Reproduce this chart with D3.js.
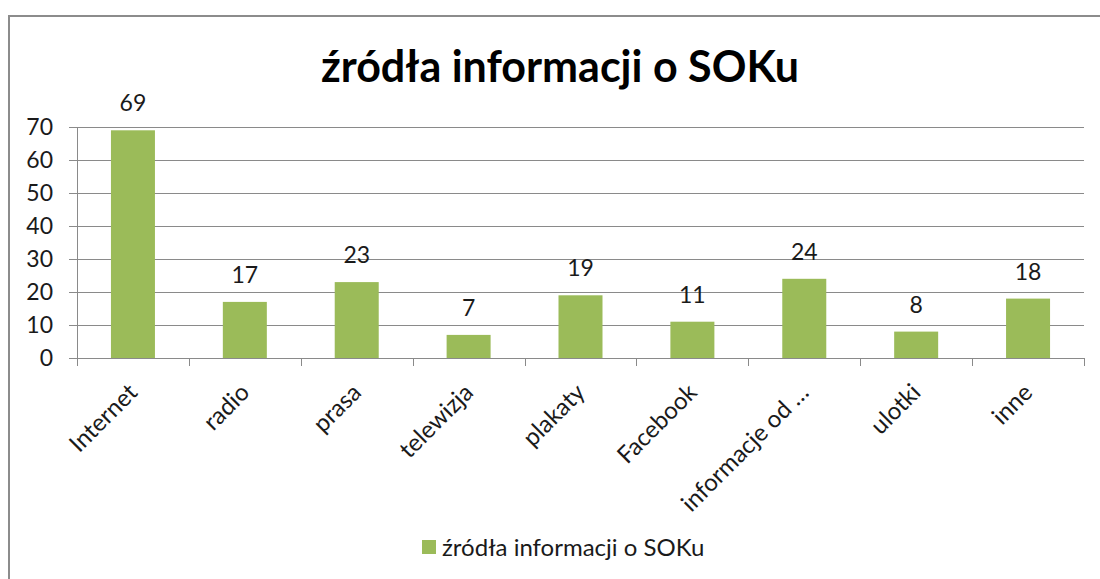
<!DOCTYPE html>
<html>
<head>
<meta charset="utf-8">
<script src="https://cdn.jsdelivr.net/npm/d3@7"></script>
<style>
  body { margin: 0; background: #fff; }
  svg { display: block; font-family: Lato, Calibri, "DejaVu Sans", sans-serif; }
</style>
</head>
<body>
<div id="chart"></div>
<script>
// zrodla informacji o SOKu
var categories = ["Internet", "radio", "prasa", "telewizja", "plakaty", "Facebook", "informacje od …", "ulotki", "inne"];
var values = [69, 17, 23, 7, 19, 11, 24, 8, 18];
var yTicks = [0, 10, 20, 30, 40, 50, 60, 70];
var title = "źródła informacji o SOKu";
var seriesName = "źródła informacji o SOKu";

var width = 1100, height = 579;
var margin = { top: 127, right: 16, bottom: 221, left: 77 };

var svg = d3.select("#chart").append("svg")
    .attr("width", width)
    .attr("height", height);

// frame of the chart area
svg.append("rect")
    .attr("x", 9).attr("y", 16)
    .attr("width", 1200).attr("height", 700)
    .attr("fill", "none")
    .attr("stroke", "#8c8c8c")
    .attr("stroke-width", 2);

var g = svg.append("g")
    .attr("transform", "translate(" + margin.left + "," + margin.top + ")");

var w = width - margin.left - margin.right,
    h = height - margin.top - margin.bottom;

var x = d3.scaleBand().domain(categories).range([0, w]).paddingInner(0).paddingOuter(0);
var y = d3.scaleLinear().domain([0, 70]).range([h, 0]);

// gridlines
g.selectAll(".grid")
    .data(yTicks)
    .enter().append("line")
    .attr("x1", -8).attr("x2", w)
    .attr("y1", d => y(d) + 0.5).attr("y2", d => y(d) + 0.5)
    .attr("stroke", "#8a8a8a")
    .attr("stroke-width", 1);

// y axis
var yAxis = d3.axisLeft(y).tickValues(yTicks).tickSize(0).tickPadding(24);
g.append("g")
    .attr("class", "y axis")
    .call(yAxis)
    .call(s => s.select(".domain").remove())
    .selectAll("text")
    .style("font-family", "Lato, sans-serif")
    .style("font-size", "23px")
    .style("fill", "#1a1a1a");

g.append("line")
    .attr("x1", 0.5).attr("x2", 0.5)
    .attr("y1", 0).attr("y2", h)
    .attr("stroke", "#8a8a8a");

// x tick marks at band boundaries
var bounds = categories.map(c => x(c)).concat([w]);
g.selectAll(".xtick")
    .data(bounds)
    .enter().append("line")
    .attr("x1", d => Math.round(d) + 0.5).attr("x2", d => Math.round(d) + 0.5)
    .attr("y1", h).attr("y2", h + 8)
    .attr("stroke", "#8a8a8a");

// bars
var barW = 44;
g.selectAll("rect.bar")
    .data(values)
    .enter().append("rect")
    .attr("class", "bar")
    .attr("x", (d, i) => x(categories[i]) + x.bandwidth() / 2 - barW / 2)
    .attr("y", d => y(d))
    .attr("width", barW)
    .attr("height", d => h - y(d))
    .attr("fill", "#9bbb59");

// value labels
g.selectAll("text.val")
    .data(values)
    .enter().append("text")
    .attr("class", "val")
    .attr("x", (d, i) => x(categories[i]) + x.bandwidth() / 2)
    .attr("y", d => y(d) - 19)
    .attr("text-anchor", "middle")
    .style("font-size", "23px")
    .style("fill", "#1a1a1a")
    .text(d => d);

// category labels, rotated
g.selectAll("text.cat")
    .data(categories)
    .enter().append("text")
    .attr("class", "cat")
    .attr("text-anchor", "end")
    .attr("transform", d => "translate(" + (x(d) + x.bandwidth() / 2 + 6) + "," + (h + 36) + ") rotate(-45)")
    .style("font-size", "24px")
    .style("fill", "#1a1a1a")
    .text(d => d);

// title
svg.append("text")
    .attr("x", 560)
    .attr("y", 82)
    .attr("text-anchor", "middle")
    .style("font-size", "43px")
    .style("font-weight", "bold")
    .style("fill", "#000")
    .text(title);

// legend
svg.append("rect")
    .attr("x", 422).attr("y", 540)
    .attr("width", 14).attr("height", 14)
    .attr("fill", "#9bbb59");
svg.append("text")
    .attr("x", 442).attr("y", 556)
    .style("font-size", "24px")
    .style("fill", "#1a1a1a")
    .text(seriesName);
</script>
</body>
</html>
